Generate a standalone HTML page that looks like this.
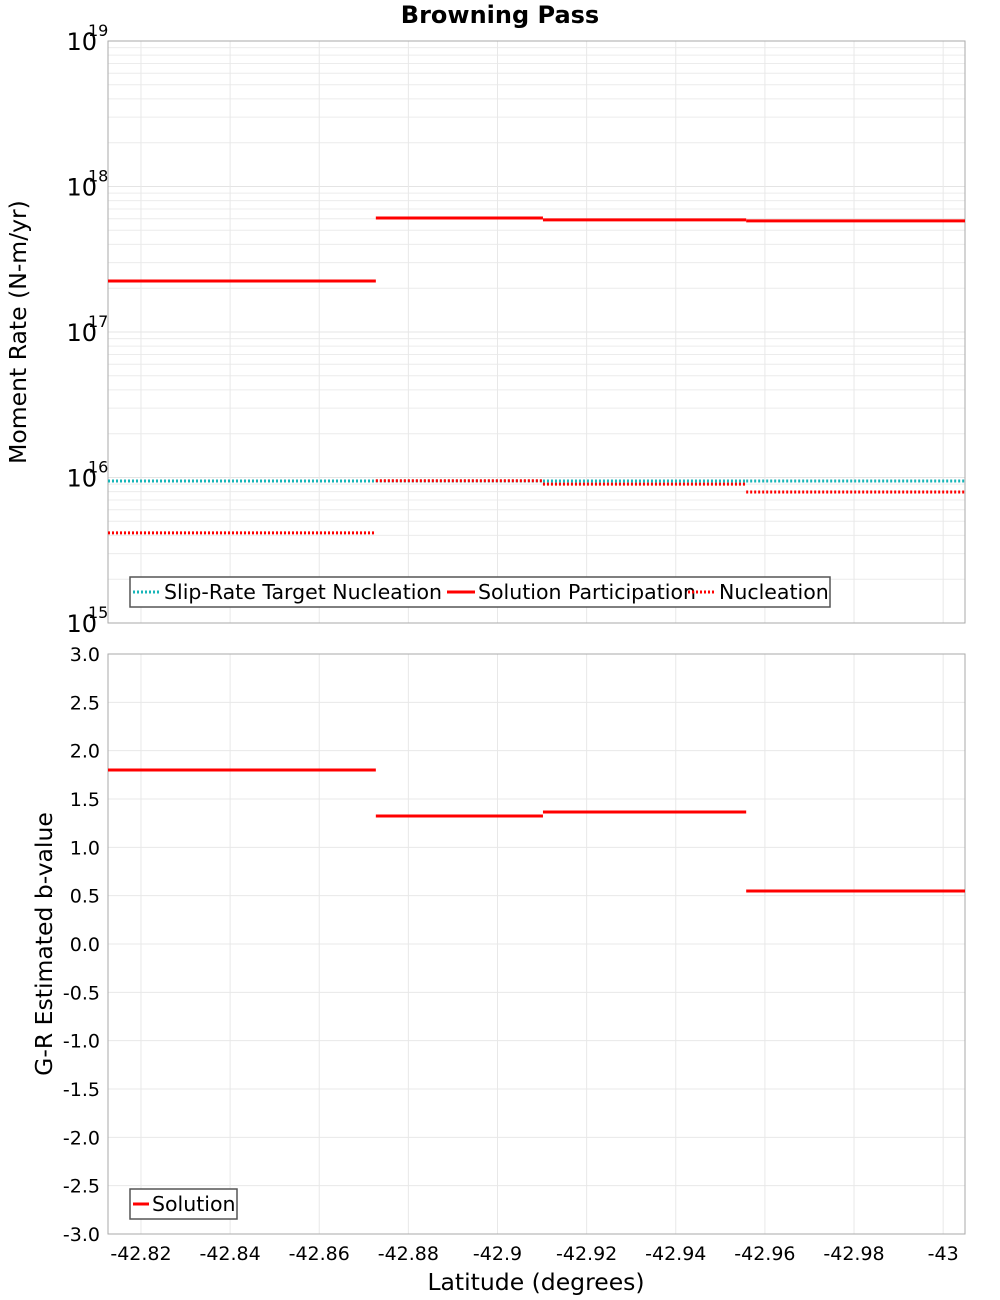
<!DOCTYPE html>
<html><head><meta charset="utf-8"><style>
body{margin:0;background:#fff;font-family:"DejaVu Sans","Liberation Sans",sans-serif}
svg{display:block}
</style></head><body>
<svg id="c" width="1000" height="1300" xmlns="http://www.w3.org/2000/svg"></svg>
<script>
const segEdges=[-42.8126,-42.8727,-42.9102,-42.9558,-43.0049];
const participation=[2.24e17,6.08e17,5.9e17,5.8e17];
const nucleation=[4.16e15,9.5e15,9.0e15,7.95e15];
const targetNucleation=[9.46e15,9.46e15,9.46e15,9.46e15];
const bValues=[1.80,1.324,1.365,0.548];
const xTicks=[-42.82,-42.84,-42.86,-42.88,-42.9,-42.92,-42.94,-42.96,-42.98,-43];
const xTickLabels=["-42.82","-42.84","-42.86","-42.88","-42.9","-42.92","-42.94","-42.96","-42.98","-43"];
const logTicks=[15,16,17,18,19];
const bTicks=[-3,-2.5,-2,-1.5,-1,-0.5,0,0.5,1,1.5,2,2.5,3];

const svg=document.getElementById('c');const NS='http://www.w3.org/2000/svg';
function el(t,a,p){const e=document.createElementNS(NS,t);for(const k in a)e.setAttribute(k,a[k]);(p||svg).appendChild(e);return e;}
const L=108,R=965,T1=41,B1=623,T2=654,B2=1234;
const xs=v=>L+(v-segEdges[0])/(segEdges[4]-segEdges[0])*(R-L);
const ys1=v=>B1-(Math.log10(v)-15)/4*(B1-T1);
const ys2=v=>B2-(v+3)/6*(B2-T2);

const g=el('g',{});
for(let d=15;d<19;d++)for(let m=2;m<=9;m++){const y=ys1(m*Math.pow(10,d));el('line',{x1:L,x2:R,y1:y,y2:y,stroke:'#ececec','stroke-width':1},g);}
logTicks.forEach(d=>{const y=ys1(Math.pow(10,d));el('line',{x1:L,x2:R,y1:y,y2:y,stroke:'#e4e4e4'},g);});
bTicks.forEach(v=>{const y=ys2(v);el('line',{x1:L,x2:R,y1:y,y2:y,stroke:'#e8e8e8'},g);});
xTicks.forEach(v=>{const x=xs(v);el('line',{x1:x,x2:x,y1:T1,y2:B1,stroke:'#e8e8e8'},g);el('line',{x1:x,x2:x,y1:T2,y2:B2,stroke:'#e8e8e8'},g);});

const f1=el('rect',{x:L,y:T1,width:R-L,height:B1-T1,fill:'none',stroke:'#aaa'});
const f2=el('rect',{x:L,y:T2,width:R-L,height:B2-T2,fill:'none',stroke:'#aaa'});

const t=el('text',{x:500,y:23,'text-anchor':'middle','font-size':24,'font-weight':'bold'});t.textContent='Browning Pass';

logTicks.forEach(d=>{const y=ys1(Math.pow(10,d));
const tx=el('text',{x:97,y:y+9,'text-anchor':'end','font-size':24});tx.textContent='10';
const s=el('text',{x:88,y:y-5,'font-size':16});s.textContent=String(d);});
bTicks.forEach(v=>{const y=ys2(v);const tx=el('text',{x:100,y:y+7,'text-anchor':'end','font-size':19});tx.textContent=v.toFixed(1);});
xTicks.forEach((v,i)=>{const x=xs(v);const tx=el('text',{x:x,y:1260,'text-anchor':'middle','font-size':19});tx.textContent=xTickLabels[i];});

let a=el('text',{x:0,y:0,'text-anchor':'middle','font-size':23.5,transform:'translate(26,332) rotate(-90)'});a.textContent='Moment Rate (N-m/yr)';
a=el('text',{x:0,y:0,'text-anchor':'middle','font-size':23.5,transform:'translate(52,944) rotate(-90)'});a.textContent='G-R Estimated b-value';
a=el('text',{x:536,y:1290,'text-anchor':'middle','font-size':23.5});a.textContent='Latitude (degrees)';

function series(vals,ys,color,dash,name){const gg=el('g',{});
vals.forEach((v,i)=>{const y=ys(v);const ln=el('line',{x1:xs(segEdges[i]),x2:xs(segEdges[i+1]),y1:y,y2:y,stroke:color,'stroke-width':3},gg);if(dash)ln.setAttribute('stroke-dasharray','2,2');});}
series(targetNucleation,ys1,'#17b5b8',true,'slip-rate-target-nucleation');
series(participation,ys1,'#f00',false,'solution-participation');
series(nucleation,ys1,'#f00',true,'nucleation');
series(bValues,ys2,'#f00',false,'solution-b-value');

function legend(x,y,w,lineLen,items,name){const gg=el('g',{});
el('rect',{x:x,y:y,width:w,height:30,fill:'#fff',stroke:'#555','stroke-width':1.5},gg);
let cx=x+3;items.forEach(it=>{const ln=el('line',{x1:cx,x2:cx+lineLen,y1:y+15,y2:y+15,stroke:it[1],'stroke-width':3},gg);if(it[2])ln.setAttribute('stroke-dasharray','2,2');
const tx=el('text',{x:cx+lineLen+3,y:y+22,'font-size':20.5},gg);tx.textContent=it[0];cx+=it[3];});}
legend(130,577,700,28,[['Slip-Rate Target Nucleation','#17b5b8',true,314],['Solution Participation','#f00',false,241],['Nucleation','#f00',true,140]],'top-legend');
legend(130,1189,107,16,[['Solution','#f00',false,100]],'bottom-legend');
</script>
</body></html>
